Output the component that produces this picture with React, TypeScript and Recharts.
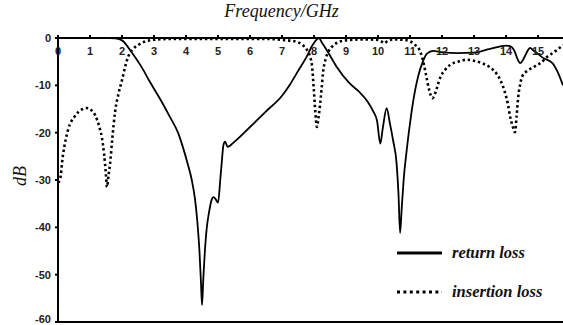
import React from 'react';
import { LineChart, Line, XAxis, YAxis, ReferenceLine } from 'recharts';

const returnFreq = [0, 1.0, 1.6, 1.8, 2.0, 2.3, 2.6, 2.875, 3.2, 3.5, 3.75, 3.9, 4.05, 4.18, 4.28, 4.35, 4.42, 4.47, 4.5, 4.54, 4.6, 4.65, 4.72, 4.8, 4.86, 4.92, 5.0, 5.07, 5.12, 5.17, 5.22, 5.3, 5.5, 6.0, 6.5, 7.0, 7.25, 7.5, 7.75, 7.97, 8.1, 8.15, 8.25, 8.4, 8.7, 9.1, 9.4, 9.65, 9.85, 9.97, 10.07, 10.15, 10.27, 10.37, 10.47, 10.58, 10.64, 10.69, 10.74, 10.8, 10.9, 11.0, 11.12, 11.25, 11.4, 11.53, 11.72, 12.0, 12.5, 13.0, 13.5, 14.0, 14.15, 14.28, 14.35, 14.44, 14.55, 14.65, 14.75, 14.85, 14.97, 15.16, 15.45, 15.6, 15.78];
const returnDb = [0, 0, 0, -0.1, -0.5, -3, -6, -9.3, -13, -16.7, -20, -23, -26.5, -30, -34, -38.5, -45, -52, -56.4, -51, -44, -40, -36.8, -34.2, -33.6, -34, -34.8, -30, -26, -22.6, -21.9, -23, -22, -18.8, -15.5, -12.2, -9.8, -7, -4.2, -1.3, -0.2, 0, -1, -2.6, -6, -9.5, -11.3, -13.2, -15.5, -17.5, -22.3, -19, -14.8, -18, -21.6, -26.5, -33, -41.2, -36, -30, -23.5, -18, -12.5, -8.2, -5, -3.3, -2.7, -3, -3.2, -3.1, -2.3, -1.6, -1.8, -3, -4.3, -5.3, -4.4, -3, -2.1, -2.6, -3.2, -4.2, -5.3, -7, -10];

const insertionFreq = [0, 0.06, 0.15, 0.31, 0.53, 0.75, 0.9, 1.05, 1.16, 1.3, 1.37, 1.44, 1.5, 1.53, 1.58, 1.63, 1.7, 1.78, 1.9, 2.0, 2.1, 2.19, 2.35, 2.5, 2.7, 2.94, 3.5, 6.5, 7.0, 7.3, 7.5, 7.65, 7.78, 7.88, 7.94, 7.99, 8.04, 8.09, 8.14, 8.19, 8.24, 8.28, 8.36, 8.44, 8.58, 8.72, 9.0, 9.5, 10.0, 10.1, 10.2, 10.3, 10.5, 10.8, 11.0, 11.15, 11.3, 11.4, 11.5, 11.6, 11.7, 11.8, 11.94, 12.1, 12.25, 12.5, 12.78, 13.0, 13.28, 13.5, 13.7, 13.85, 13.97, 14.06, 14.13, 14.2, 14.28, 14.33, 14.38, 14.45, 14.5, 14.69, 14.85, 14.97, 15.1, 15.28, 15.45, 15.6, 15.78];
const insertionDb = [-30.5, -30, -25, -19.5, -16.5, -15.1, -14.8, -15.3, -16.3, -19, -21, -24.5, -29, -31.5, -29, -26.4, -21, -15.8, -11.5, -8.9, -6, -4, -2.3, -1.5, -0.8, -0.4, -0.2, -0.2, -0.4, -0.6, -0.9, -1.5, -2.5, -4, -6, -10.5, -15.5, -18.8, -16.8, -14, -10.5, -7.4, -4.5, -3, -1.7, -1, -0.5, -0.3, -0.4, -0.7, -1.1, -0.6, -0.3, -0.4, -0.7, -1.4, -2.6, -4.6, -7.8, -11, -12.7, -11.4, -8.4, -6.7, -5.7, -5, -4.6, -4.8, -5.4, -6.2, -7.5, -9.3, -11.6, -14, -16.7, -18.5, -19.9, -16.5, -12.5, -9.5, -8.2, -6.8, -6.2, -5.7, -5.2, -4, -3.2, -2.5, -1.5];

const xTicks = [0, 1, 2, 3, 4, 5, 6, 7, 8, 9, 10, 11, 12, 13, 14, 15];
const yTicks = [0, -10, -20, -30, -40, -50, -60];

const returnData = returnFreq.map((f, i) => ({ f, v: returnDb[i] }));
const insertionData = insertionFreq.map((f, i) => ({ f, v: insertionDb[i] }));

const tickFont = { fontFamily: '"Liberation Sans", Arial, sans-serif', fontWeight: 700, fontSize: 11, fill: '#222' };

const XTick = (props: any) => {
  const { x, y, payload } = props;
  return (
    <text x={x} y={y + 22} textAnchor="middle" style={tickFont as any}>
      {payload.value}
    </text>
  );
};

const legendStyle: React.CSSProperties = {
  position: 'absolute',
  left: 396,
  display: 'flex',
  alignItems: 'center',
  fontFamily: '"Liberation Serif", serif',
  fontStyle: 'italic',
  fontWeight: 700,
  fontSize: 16.5,
  color: '#111',
  whiteSpace: 'nowrap',
};

export default function App() {
  return (
    <div style={{ position: 'absolute', left: 0, top: 0, width: 563, height: 325, background: '#fff' }}>
      <LineChart width={563} height={325} margin={{ top: 0, right: 0, bottom: 3, left: 0 }}>
        <XAxis
          xAxisId={0}
          type="number"
          dataKey="f"
          orientation="top"
          height={38}
          domain={[0, 15.78]}
          allowDataOverflow
          ticks={xTicks}
          tick={<XTick />}
          tickSize={3}
          axisLine={{ stroke: '#000', strokeWidth: 2 }}
          tickLine={{ stroke: '#000', strokeWidth: 2 }}
        />
        <YAxis
          type="number"
          dataKey="v"
          width={58}
          domain={[-60, 0]}
          ticks={yTicks}
          tickSize={3}
          tickMargin={4}
          axisLine={{ stroke: '#000', strokeWidth: 2 }}
          tickLine={{ stroke: '#000', strokeWidth: 2 }}
          tick={tickFont}
        />
        <ReferenceLine y={-60} stroke="#000" strokeWidth={2} />
        <Line
          data={returnData}
          dataKey="v"
          type="monotone"
          stroke="#000"
          strokeWidth={1.8}
          dot={false}
          isAnimationActive={false}
        />
        <Line
          data={insertionData}
          dataKey="v"
          type="monotone"
          stroke="#000"
          strokeWidth={2.6}
          strokeDasharray="2.4 2.8"
          dot={false}
          isAnimationActive={false}
        />
      </LineChart>
      <div style={{ position: 'absolute', left: 0, top: 1, width: 563, textAlign: 'center', fontFamily: '"Liberation Serif", serif', fontStyle: 'italic', fontSize: 18, color: '#111', pointerEvents: 'none' }}>
        Frequency/GHz
      </div>
      <div style={{ position: 'absolute', left: 20, top: 176, transform: 'translate(-50%, -50%) rotate(-90deg)', fontFamily: '"Liberation Serif", serif', fontStyle: 'italic', fontSize: 18, color: '#111', whiteSpace: 'nowrap' }}>
        dB
      </div>
      <div style={{ ...legendStyle, top: 243 }}>
        <svg width={48} height={20}><line x1={1} y1={10} x2={46} y2={10} stroke="#000" strokeWidth={3} /></svg>
        <span style={{ marginLeft: 8 }}>return loss</span>
      </div>
      <div style={{ ...legendStyle, top: 282 }}>
        <svg width={48} height={20}><line x1={1} y1={10} x2={46} y2={10} stroke="#000" strokeWidth={3} strokeDasharray="3 3.4" /></svg>
        <span style={{ marginLeft: 8 }}>insertion loss</span>
      </div>
    </div>
  );
}
